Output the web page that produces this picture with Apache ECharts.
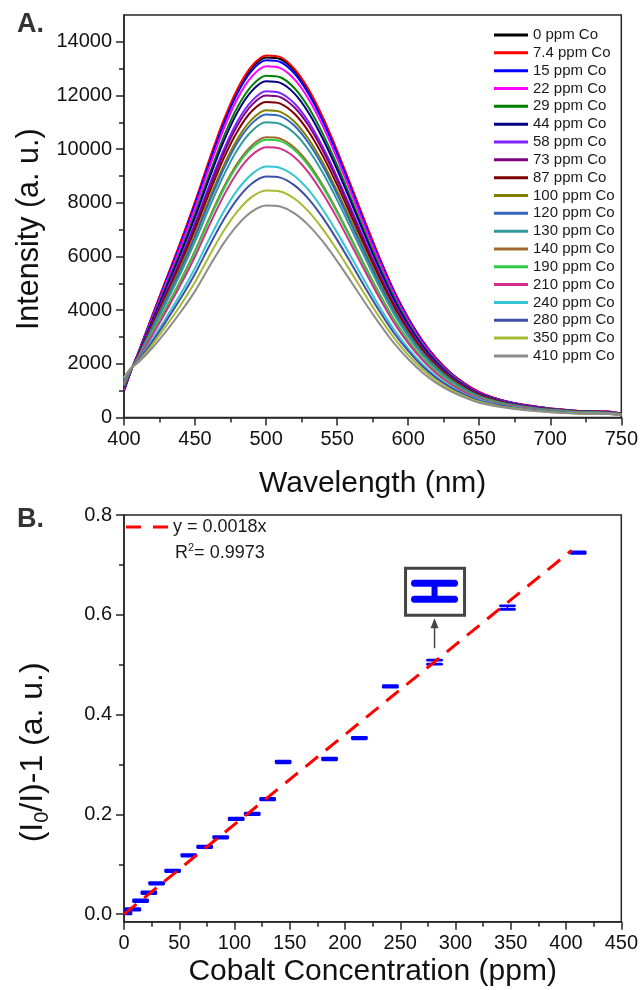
<!DOCTYPE html>
<html><head><meta charset="utf-8">
<script src="https://cdn.jsdelivr.net/npm/echarts@6/dist/echarts.min.js"></script>
<style>html,body{margin:0;padding:0;background:#fff}#c{width:641px;height:990px}</style>
</head><body><div id="c"></div>
<script>
// ---------- Panel A data ----------
const wavelengthNm = [400,405,410,420,430,440,450,460,470,480,490,500,510,520,530,540,550,560,570,580,590,600,610,620,630,640,650,660,670,680,690,700,720,740,750];
const seriesNames = ['0 ppm Co','7.4 ppm Co','15 ppm Co','22 ppm Co','29 ppm Co','44 ppm Co','58 ppm Co','73 ppm Co','87 ppm Co','100 ppm Co','120 ppm Co','130 ppm Co','140 ppm Co','190 ppm Co','210 ppm Co','240 ppm Co','280 ppm Co','350 ppm Co','410 ppm Co'];
const int0   = [1000,1750,2400,3800,5170,6540,8000,9550,11000,12200,13030,13420,13360,12930,12160,11120,9900,8570,7210,5900,4710,3700,2850,2180,1650,1250,940,740,590,480,400,340,240,220,150];
const int7_4 = [1000,1750,2400,3820,5190,6570,8040,9600,11060,12260,13100,13490,13430,12990,12220,11180,9950,8610,7250,5940,4730,3720,2870,2190,1660,1260,950,740,590,490,410,340,240,220,150];
const int15  = [1010,1750,2390,3770,5130,6480,7940,9470,10910,12100,12930,13310,13250,12820,12060,11030,9820,8500,7150,5860,4670,3670,2830,2160,1640,1240,930,730,590,480,400,330,240,210,150];
const int22  = [1030,1760,2380,3730,5050,6380,7800,9310,10730,11900,12710,13090,13020,12600,11860,10850,9650,8350,7030,5760,4590,3610,2780,2120,1610,1220,920,720,580,470,390,330,240,210,140];
const int29  = [1070,1760,2350,3650,4930,6210,7600,9060,10440,11580,12370,12740,12680,12270,11540,10560,9400,8130,6840,5600,4470,3510,2710,2070,1570,1190,890,700,560,460,380,320,230,200,140];
const int44  = [1090,1770,2340,3610,4860,6120,7470,8910,10270,11390,12170,12530,12470,12070,11350,10380,9240,8000,6730,5510,4390,3450,2660,2030,1540,1170,880,690,550,450,380,310,230,200,140];
const int58  = [1120,1770,2320,3520,4730,5940,7250,8650,9960,11050,11800,12160,12090,11700,11010,10070,8960,7760,6530,5350,4260,3350,2580,1970,1500,1130,850,670,540,440,370,300,220,190,130];
const int73  = [1130,1780,2310,3490,4670,5860,7150,8530,9830,10900,11650,12000,11940,11550,10870,9940,8850,7660,6440,5280,4210,3310,2550,1950,1480,1120,840,660,530,430,360,300,220,190,130];
const int87  = [1150,1780,2290,3440,4590,5750,7010,8360,9640,10680,11420,11760,11700,11320,10650,9740,8670,7500,6310,5170,4120,3240,2500,1910,1450,1100,820,650,520,420,350,290,210,190,130];
const int100 = [1180,1790,2270,3370,4480,5610,6820,8140,9380,10400,11110,11450,11390,11020,10370,9490,8440,7310,6150,5040,4010,3150,2430,1860,1410,1070,800,630,500,410,340,290,210,180,130];
const int120 = [1200,1790,2260,3340,4420,5530,6730,8030,9250,10260,10960,11290,11230,10870,10220,9350,8320,7200,6060,4970,3960,3110,2400,1830,1390,1050,790,620,500,410,340,280,200,180,120];
const int130 = [1220,1800,2240,3280,4320,5390,6560,7820,9010,10000,10680,11000,10940,10590,9960,9110,8110,7020,5910,4840,3860,3030,2340,1790,1360,1020,770,610,480,400,330,280,200,180,120];
const int140 = [1270,1800,2210,3160,4130,5130,6220,7430,8560,9490,10140,10440,10390,10050,9460,8650,7700,6660,5610,4590,3660,2880,2220,1690,1290,970,730,580,460,380,310,260,190,170,120];
const int190 = [1280,1810,2200,3140,4100,5090,6170,7370,8490,9410,10050,10350,10300,9970,9380,8580,7640,6610,5560,4550,3630,2850,2200,1680,1280,960,730,570,460,370,310,260,190,170,110];
const int210 = [1310,1810,2190,3070,4000,4960,6000,7160,8250,9150,9780,10070,10020,9700,9120,8340,7430,6430,5410,4430,3530,2770,2140,1630,1240,940,710,550,440,360,300,250,180,160,110];
const int240 = [1370,1820,2140,2910,3750,4620,5570,6650,7660,8490,9070,9350,9300,9000,8470,7740,6890,5970,5020,4110,3280,2580,1990,1520,1150,870,660,520,410,340,280,230,170,150,100];
const int280 = [1400,1830,2120,2830,3620,4450,5360,6390,7360,8160,8720,8980,8940,8650,8140,7440,6620,5730,4820,3950,3150,2480,1910,1460,1110,840,630,500,400,320,270,230,160,140,100];
const int350 = [1450,1840,2080,2720,3440,4200,5050,6020,6940,7690,8220,8460,8420,8150,7670,7010,6240,5400,4550,3720,2970,2330,1800,1370,1040,790,590,470,370,310,250,210,150,140,90];
const int410 = [1500,1850,2050,2600,3240,3940,4710,5620,6480,7180,7670,7900,7860,7610,7160,6550,5830,5050,4250,3480,2770,2180,1680,1280,970,740,550,440,350,285,240,200,140,130,90];
const intensitySets = [int0,int7_4,int15,int22,int29,int44,int58,int73,int87,int100,int120,int130,int140,int190,int210,int240,int280,int350,int410];
const intensityTicks = [0,2000,4000,6000,8000,10000,12000,14000];
const intensityMinorTicks = [1000,3000,5000,7000,9000,11000,13000];

// ---------- Panel B data ----------
const concPpm  = [0, 8, 15, 22.5, 29.5, 44, 58.6, 73, 87.5, 101.5, 116, 130, 144, 186, 213, 241, 281, 347, 411];
const ratioVal = [0.002, 0.0095, 0.027, 0.043, 0.062, 0.087, 0.118, 0.135, 0.154, 0.191, 0.201, 0.2305, 0.305, 0.311, 0.353, 0.4565, 0.505, 0.6145, 0.7245];
const ratioErr = [0.0015,0.0015,0.0015,0.0015,0.0015,0.0015,0.0015,0.0015,0.0015,0.0015,0.0015,0.0015,0.0015,0.0015,0.0015,0.0015,0.004,0.0035,0.0015];
const fitX = [0, 405];
const fitY = [0, 0.729];
const ratioTicks = [0, 0.2, 0.4, 0.6, 0.8];
const ratioMinorTicks = [0.1, 0.3, 0.5, 0.7];
const insetIndex = 16;

// ---------- styles ----------
const FONT = 'Liberation Sans, Arial, sans-serif';
const colors = ['#000000','#ff0000','#0000ff','#ff00ff','#008000','#000080','#7f22ff','#800080','#800000','#808000','#3366bb','#2e9a9a','#a06a32','#2ecc46','#d02f8c','#33c6d2','#3f4fa6','#a8b932','#8c8c8c'];
const axisColor = '#262626';
const lineSt = {color: axisColor, width: 1.5};
const labelSt = {color: '#111', fontSize: 20, fontFamily: FONT};

const chart = echarts.init(document.getElementById('c'));

const spectra = seriesNames.map((name, k) => ({
  name, type: 'line', xAxisIndex: 0, yAxisIndex: 0,
  data: wavelengthNm.map((w, i) => [w, intensitySets[k][i]]),
  symbol: 'none', smooth: 0.3,
  lineStyle: {color: colors[k], width: 2}, itemStyle: {color: colors[k]},
  silent: true
}));

const option = {
  animation: false,
  backgroundColor: '#fff',
  textStyle: {fontFamily: FONT},
  grid: [
    {left: 124, right: 19, top: 15, height: 402.5, show: true, borderColor: axisColor, borderWidth: 1.5},
    {left: 124, right: 19, top: 515, height: 406.7, show: true, borderColor: axisColor, borderWidth: 1.5}
  ],
  legend: [
    {data: seriesNames, orient: 'vertical', left: 494, top: 27.5, padding: 0, itemWidth: 34, itemHeight: 3, itemGap: 2.83,
     icon: 'rect', selectedMode: false,
     textStyle: {fontSize: 15, color: '#1a1a1a', fontFamily: FONT}},
    {data: ['y = 0.0018x'], left: 126, top: 518, padding: 0, itemWidth: 42, itemHeight: 3, selectedMode: false,
     icon: 'path://M0,0H15V3H0ZM27,0H42V3H27Z',
     itemStyle: {color: '#ff0000'},
     textStyle: {fontSize: 18, color: '#1a1a1a', fontFamily: FONT}}
  ],
  xAxis: [
    {type: 'value', gridIndex: 0, min: 400, max: 750, interval: 50,
     axisLine: {show: true, onZero: false, lineStyle: lineSt},
     axisTick: {show: true, length: 8, lineStyle: lineSt},
     minorTick: {show: true, splitNumber: 2, length: 5, lineStyle: lineSt},
     axisLabel: Object.assign({margin: 12, formatter: v => String(v)}, labelSt),
     splitLine: {show: false},
     name: 'Wavelength (nm)', nameLocation: 'middle', nameGap: 51,
     nameTextStyle: {fontSize: 30, color: '#111', fontFamily: FONT}},
    {type: 'value', gridIndex: 1, min: 0, max: 450, interval: 50,
     axisLine: {show: true, onZero: false, lineStyle: lineSt},
     axisTick: {show: true, length: 8, lineStyle: lineSt},
     minorTick: {show: true, splitNumber: 2, length: 5, lineStyle: lineSt},
     axisLabel: Object.assign({margin: 12, formatter: v => String(v)}, labelSt),
     splitLine: {show: false},
     name: 'Cobalt Concentration (ppm)', nameLocation: 'middle', nameGap: 35,
     nameTextStyle: {fontSize: 30, color: '#111', fontFamily: FONT}}
  ],
  yAxis: [
    {type: 'value', gridIndex: 0, position: 'left', min: 0, max: 15000,
     axisLine: {show: true, onZero: false, lineStyle: lineSt},
     axisTick: {show: true, length: 8, lineStyle: lineSt, customValues: intensityTicks},
     axisLabel: Object.assign({margin: 12, formatter: v => String(v), customValues: intensityTicks}, labelSt),
     splitLine: {show: false},
     name: 'Intensity (a. u.)', nameLocation: 'middle', nameRotate: 90, nameGap: 78,
     nameTextStyle: {fontSize: 30.5, color: '#111', fontFamily: FONT, padding: [0, 26, 0, 0]}},
    {type: 'value', gridIndex: 0, position: 'left', min: 0, max: 15000,
     axisLine: {show: false, onZero: false},
     axisTick: {show: true, length: 5, lineStyle: lineSt, customValues: intensityMinorTicks},
     axisLabel: {show: false}, splitLine: {show: false}},
    {type: 'value', gridIndex: 1, position: 'left', min: -0.015, max: 0.8,
     axisLine: {show: true, onZero: false, lineStyle: lineSt},
     axisTick: {show: true, length: 8, lineStyle: lineSt, customValues: ratioTicks},
     axisLabel: Object.assign({margin: 12, formatter: v => v.toFixed(1), customValues: ratioTicks}, labelSt),
     splitLine: {show: false},
     name: '(I{sub|0}/I)-1 (a. u.)', nameLocation: 'middle', nameRotate: 90, nameGap: 72,
     nameTextStyle: {fontSize: 32, color: '#111', fontFamily: FONT, padding: [0, 68, 0, 0],
       rich: {sub: {fontSize: 20, color: '#111', fontFamily: FONT, verticalAlign: 'bottom', lineHeight: 38}}}},
    {type: 'value', gridIndex: 1, position: 'left', min: -0.015, max: 0.8,
     axisLine: {show: false, onZero: false},
     axisTick: {show: true, length: 5, lineStyle: lineSt, customValues: ratioMinorTicks},
     axisLabel: {show: false}, splitLine: {show: false}}
  ],
  series: spectra.concat([
    {name: 'points', type: 'custom', xAxisIndex: 1, yAxisIndex: 2, clip: true,
     data: concPpm.map((c, i) => [c, ratioVal[i], ratioErr[i]]),
     renderItem: function (params, api) {
       const x = api.value(0), y = api.value(1), e = api.value(2);
       const hi = api.coord([x, y + e]), lo = api.coord([x, y - e]);
       const hw = 7;
       const st = {stroke: '#0000ff', lineWidth: 2.8, lineCap: 'round'};
       return {type: 'group', children: [
         {type: 'line', shape: {x1: hi[0] - hw, y1: hi[1], x2: hi[0] + hw, y2: hi[1]}, style: st},
         {type: 'line', shape: {x1: lo[0] - hw, y1: lo[1], x2: lo[0] + hw, y2: lo[1]}, style: st},
         {type: 'line', shape: {x1: hi[0], y1: hi[1], x2: lo[0], y2: lo[1]}, style: {stroke: '#0000ff', lineWidth: 1.5}}
       ]};
     }, silent: true, z: 2},
    {name: 'y = 0.0018x', type: 'line', xAxisIndex: 1, yAxisIndex: 2,
     data: fitX.map((x, i) => [x, fitY[i]]), symbol: 'none',
     lineStyle: {color: '#ff0000', width: 3, type: [16, 10]}, itemStyle: {color: '#ff0000'}, z: 3, silent: true}
  ])
};
chart.setOption(option);

// annotations positioned relative to the magnified data point
const p = chart.convertToPixel({xAxisIndex: 1, yAxisIndex: 2}, [concPpm[insetIndex], ratioVal[insetIndex]]);
const gray = '#444';
chart.setOption({graphic: [
  {type: 'text', left: 17, top: 11, style: {text: 'A.', font: 'bold 27px ' + FONT, fill: '#333'}},
  {type: 'text', left: 17, top: 506, style: {text: 'B.', font: 'bold 27px ' + FONT, fill: '#333'}},
  {type: 'text', left: 175, top: 542, style: {text: 'R{sup|2}= 0.9973', font: '18px ' + FONT, fill: '#1a1a1a',
    rich: {sup: {fontSize: 11, fontFamily: FONT, fill: '#1a1a1a', verticalAlign: 'top', lineHeight: 22, padding: [0,0,10,0]}}}},
  {type: 'rect', shape: {x: p[0] - 29, y: p[1] - 94, width: 59, height: 47}, style: {fill: '#fff', stroke: gray, lineWidth: 3}, z: 10},
  {type: 'line', shape: {x1: p[0] - 20, y1: p[1] - 79, x2: p[0] + 20, y2: p[1] - 79}, style: {stroke: '#0000ff', lineWidth: 7, lineCap: 'round'}, z: 11},
  {type: 'line', shape: {x1: p[0] - 20, y1: p[1] - 63, x2: p[0] + 20, y2: p[1] - 63}, style: {stroke: '#0000ff', lineWidth: 7, lineCap: 'round'}, z: 11},
  {type: 'line', shape: {x1: p[0], y1: p[1] - 79, x2: p[0], y2: p[1] - 63}, style: {stroke: '#0000ff', lineWidth: 6}, z: 11},
  {type: 'line', shape: {x1: p[0], y1: p[1] - 14, x2: p[0], y2: p[1] - 36}, style: {stroke: gray, lineWidth: 1.5}, z: 10},
  {type: 'polygon', shape: {points: [[p[0], p[1] - 44], [p[0] - 4, p[1] - 34], [p[0] + 4, p[1] - 34]]}, style: {fill: gray}, z: 10}
]});
</script></body></html>
